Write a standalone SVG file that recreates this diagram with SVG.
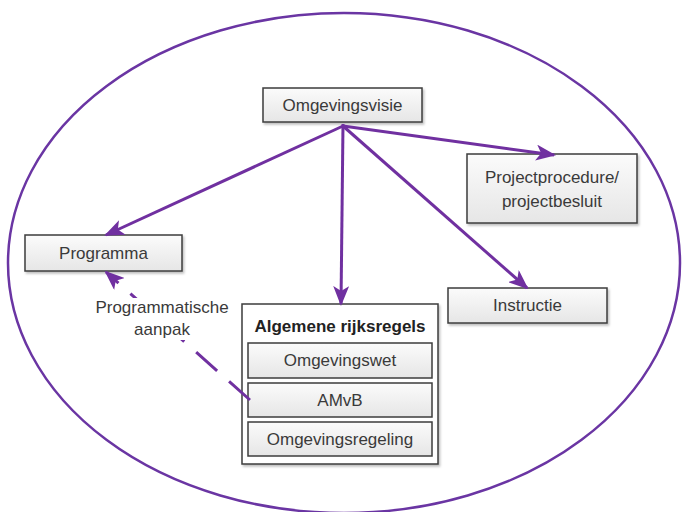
<svg xmlns="http://www.w3.org/2000/svg" width="682" height="512" viewBox="0 0 682 512">
  <defs>
    <linearGradient id="boxFill" x1="0" y1="0" x2="0" y2="1">
      <stop offset="0" stop-color="#fbfbfb"/>
      <stop offset="1" stop-color="#e6e6e6"/>
    </linearGradient>
    <filter id="shadow" x="-10%" y="-10%" width="130%" height="140%">
      <feDropShadow dx="1.5" dy="2" stdDeviation="1.2" flood-color="#000" flood-opacity="0.25"/>
    </filter>
    <marker id="arrow" viewBox="0 0 20 16" refX="18" refY="8" markerWidth="20" markerHeight="16" markerUnits="userSpaceOnUse" orient="auto">
      <path d="M0,0 L20,8 L0,16 L5,8 Z" fill="#7030a0"/>
    </marker>
  </defs>
  <style>
    .box { fill: url(#boxFill); stroke: #3c3c3c; stroke-width: 1.5; }
    .outer { fill: #ffffff; stroke: #3c3c3c; stroke-width: 1.5; }
    .lbl { font-family: "Liberation Sans", Arial, sans-serif; font-size: 17px; fill: #3a3a3a; text-anchor: middle; }
    .bold { font-weight: bold; fill: #222; }
    .conn { fill: none; stroke: #7030a0; stroke-width: 3; }
    .dash { stroke-dasharray: 28 16; marker-end: url(#arrow); }
  </style>

  <rect width="682" height="512" fill="#ffffff"/>

  <!-- surrounding boundary -->
  <ellipse cx="344" cy="263" rx="336" ry="250" fill="none" stroke="#6a35a3" stroke-width="2.5"/>

  <g id="omgevingsvisie">
    <rect class="box" x="263" y="88" width="159" height="34" filter="url(#shadow)"/>
    <text class="lbl" x="342.5" y="111">Omgevingsvisie</text>
  </g>

  <g id="projectprocedure">
    <rect class="box" x="467" y="154" width="170" height="69" filter="url(#shadow)"/>
    <text class="lbl" x="552" y="183">Projectprocedure/</text>
    <text class="lbl" x="552" y="207">projectbesluit</text>
  </g>

  <g id="programma">
    <rect class="box" x="25" y="235" width="157" height="36" filter="url(#shadow)"/>
    <text class="lbl" x="103.5" y="259">Programma</text>
  </g>

  <g id="instructie">
    <rect class="box" x="448" y="288" width="159" height="35" filter="url(#shadow)"/>
    <text class="lbl" x="527.5" y="311">Instructie</text>
  </g>

  <g id="algemene-rijksregels">
    <rect class="outer" x="242" y="304" width="196" height="160" filter="url(#shadow)"/>
    <text class="lbl bold" x="340" y="332">Algemene rijksregels</text>
    <g id="omgevingswet">
      <rect class="box" x="248" y="343" width="184" height="35"/>
      <text class="lbl" x="340" y="366">Omgevingswet</text>
    </g>
    <g id="amvb">
      <rect class="box" x="248" y="383" width="184" height="34"/>
      <text class="lbl" x="340" y="406">AMvB</text>
    </g>
    <g id="omgevingsregeling">
      <rect class="box" x="248" y="422" width="184" height="34"/>
      <text class="lbl" x="340" y="445">Omgevingsregeling</text>
    </g>
  </g>

  <!-- connectors -->
  <g id="connectors">
    <line class="conn" x1="343" y1="126" x2="106" y2="235" marker-end="url(#arrow)"/>
    <line class="conn" x1="343" y1="124" x2="341" y2="304" marker-end="url(#arrow)"/>
    <line class="conn" x1="343" y1="126" x2="527" y2="288" marker-end="url(#arrow)"/>
    <line class="conn" x1="343" y1="126" x2="554" y2="155" marker-end="url(#arrow)"/>
    <line class="conn dash" x1="250" y1="400" x2="106" y2="272"/>
  </g>

  <!-- label of the dashed connector, on a white backing -->
  <g id="programmatische-aanpak">
    <rect x="90" y="298" width="145" height="42" fill="#ffffff"/>
    <text class="lbl" x="162" y="313">Programmatische</text>
    <text class="lbl" x="162" y="335">aanpak</text>
  </g>
</svg>
